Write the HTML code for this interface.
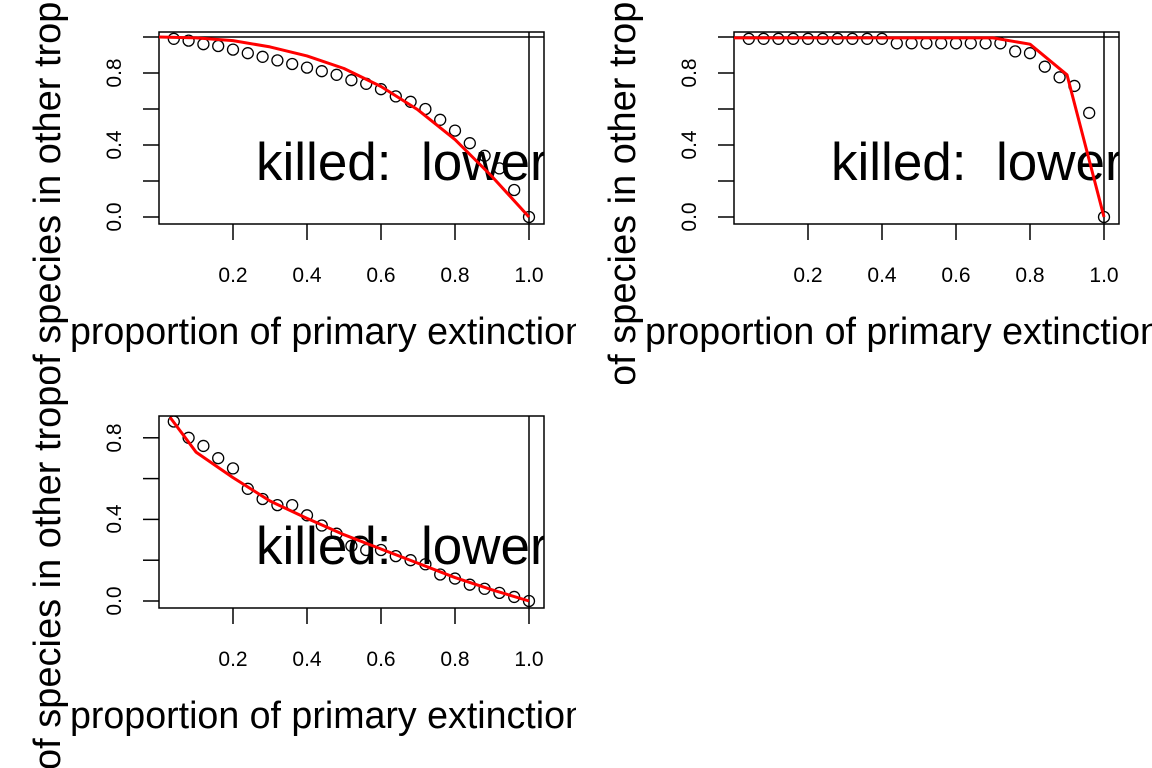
<!DOCTYPE html>
<html><head><meta charset="utf-8"><style>
html,body{margin:0;padding:0;background:#fff;}
svg{display:block;font-family:"Liberation Sans",Arial,sans-serif;}
</style></head><body>
<svg id="s" width="1152" height="768" viewBox="0 0 1152 768" xmlns="http://www.w3.org/2000/svg">
<defs>
<clipPath id="r1"><rect x="0" y="0" width="576" height="384"/></clipPath>
<clipPath id="r2"><rect x="576" y="0" width="576" height="384"/></clipPath>
<clipPath id="r3"><rect x="0" y="384" width="576" height="384"/></clipPath>
<clipPath id="b1"><rect x="159" y="32" width="385" height="192"/></clipPath>
<clipPath id="b2"><rect x="734" y="32" width="385" height="192"/></clipPath>
<clipPath id="b3"><rect x="159" y="416" width="385" height="192"/></clipPath>
</defs>
<g id="g1" clip-path="url(#r1)">
<text x="60" y="386" transform="rotate(-90 60 386)" font-size="38">of species in other trophic levels</text>
<text x="70" y="344" font-size="37.6">proportion of primary extinctions</text>
<g font-size="21" text-anchor="middle"><text x="233" y="282">0.2</text><text x="307" y="282">0.4</text><text x="381" y="282">0.6</text><text x="455" y="282">0.8</text><text x="529" y="282">1.0</text>
<text transform="translate(121 217) rotate(-90)">0.0</text><text transform="translate(121 145) rotate(-90)">0.4</text><text transform="translate(121 73) rotate(-90)">0.8</text></g>
<text x="256" y="180" font-size="53" clip-path="url(#b1)">killed:&#160; lower</text>
</g>
<g id="g2" clip-path="url(#r2)">
<text x="635" y="386" transform="rotate(-90 635 386)" font-size="38">of species in other trophic levels</text>
<text x="645" y="344" font-size="37.6">proportion of primary extinctions</text>
<g font-size="21" text-anchor="middle"><text x="808" y="282">0.2</text><text x="882" y="282">0.4</text><text x="956" y="282">0.6</text><text x="1030" y="282">0.8</text><text x="1104" y="282">1.0</text>
<text transform="translate(696 217) rotate(-90)">0.0</text><text transform="translate(696 145) rotate(-90)">0.4</text><text transform="translate(696 73) rotate(-90)">0.8</text></g>
<text x="831" y="180" font-size="53" clip-path="url(#b2)">killed:&#160; lower</text>
</g>
<g id="g3" clip-path="url(#r3)">
<text x="60" y="770" transform="rotate(-90 60 770)" font-size="38">of species in other trophic levels</text>
<text x="70" y="728" font-size="37.6">proportion of primary extinctions</text>
<g font-size="21" text-anchor="middle"><text x="233" y="666">0.2</text><text x="307" y="666">0.4</text><text x="381" y="666">0.6</text><text x="455" y="666">0.8</text><text x="529" y="666">1.0</text>
<text transform="translate(121 601) rotate(-90)">0.0</text><text transform="translate(121 519) rotate(-90)">0.4</text><text transform="translate(121 438) rotate(-90)">0.8</text></g>
<text x="256" y="564" font-size="53" clip-path="url(#b3)">killed:&#160; lower</text>
</g>
</svg>
<script>
(function(){
var NS="http://www.w3.org/2000/svg",s=document.getElementById('s');
function el(t,a,p){var e=document.createElementNS(NS,t);for(var k in a)e.setAttribute(k,a[k]);(p||s).appendChild(e);return e;}
var xs=[];for(var i=1;i<=25;i++)xs.push(i*0.04);
var P=[
 {x0:159,y0:217,sy:180,top:32,bot:224,yt:[0,0.2,0.4,0.6,0.8,1.0],clip:'b1',
  pts:[0.99,0.98,0.96,0.95,0.93,0.91,0.89,0.87,0.85,0.83,0.81,0.79,0.76,0.74,0.71,0.67,0.64,0.60,0.54,0.48,0.41,0.34,0.27,0.15,0],
  line:[[0,1],[0.1,0.995],[0.2,0.98],[0.3,0.945],[0.4,0.895],[0.5,0.825],[0.6,0.725],[0.7,0.595],[0.8,0.43],[0.9,0.225],[1,0]],hline:true},
 {x0:734,y0:217,sy:180,top:32,bot:224,yt:[0,0.2,0.4,0.6,0.8,1.0],clip:'b2',
  pts:[0.99,0.99,0.99,0.99,0.99,0.99,0.99,0.99,0.99,0.99,0.965,0.965,0.965,0.965,0.965,0.965,0.965,0.965,0.92,0.91,0.835,0.776,0.728,0.578,0],
  line:[[0,0.995],[0.7,0.995],[0.8,0.96],[0.9,0.79],[1,0]],hline:true},
 {x0:159,y0:601,sy:204,top:416,bot:608,yt:[0,0.2,0.4,0.6,0.8],clip:'b3',
  pts:[0.88,0.80,0.76,0.70,0.65,0.55,0.50,0.47,0.47,0.42,0.37,0.33,0.27,0.25,0.25,0.22,0.20,0.18,0.13,0.11,0.08,0.06,0.04,0.02,0],
  line:[[0.03,0.9],[0.1,0.73],[0.2,0.605],[0.3,0.49],[0.4,0.405],[0.5,0.325],[0.6,0.255],[0.7,0.185],[0.8,0.115],[0.9,0.055],[1,0]],hline:false}
];
P.forEach(function(p){
 var X=function(v){return p.x0+v*370;},Y=function(v){return p.y0-v*p.sy;};
 el('rect',{x:p.x0,y:p.top,width:385,height:p.bot-p.top,fill:'none',stroke:'#000','stroke-width':1.5});
 p.yt.forEach(function(v){el('line',{x1:p.x0-16,x2:p.x0,y1:Y(v),y2:Y(v),stroke:'#000','stroke-width':1.5});});
 [0.2,0.4,0.6,0.8,1.0].forEach(function(v){el('line',{x1:X(v),x2:X(v),y1:p.bot,y2:p.bot+16,stroke:'#000','stroke-width':1.5});});
 var g=el('g',{'clip-path':'url(#'+p.clip+')'});
 el('line',{x1:X(1),x2:X(1),y1:p.top,y2:p.bot,stroke:'#000','stroke-width':1.5},g);
 if(p.hline)el('line',{x1:p.x0,x2:p.x0+385,y1:Y(1),y2:Y(1),stroke:'#000','stroke-width':1.5},g);
 p.pts.forEach(function(v,i){el('circle',{cx:X(xs[i]),cy:Y(v),r:5.5,fill:'none',stroke:'#000','stroke-width':1.3},g);});
 el('polyline',{points:p.line.map(function(q){return X(q[0])+','+Y(q[1]);}).join(' '),fill:'none',stroke:'#ff0000','stroke-width':3,'stroke-linejoin':'round'},g);
});
})();
</script>
</body></html>
